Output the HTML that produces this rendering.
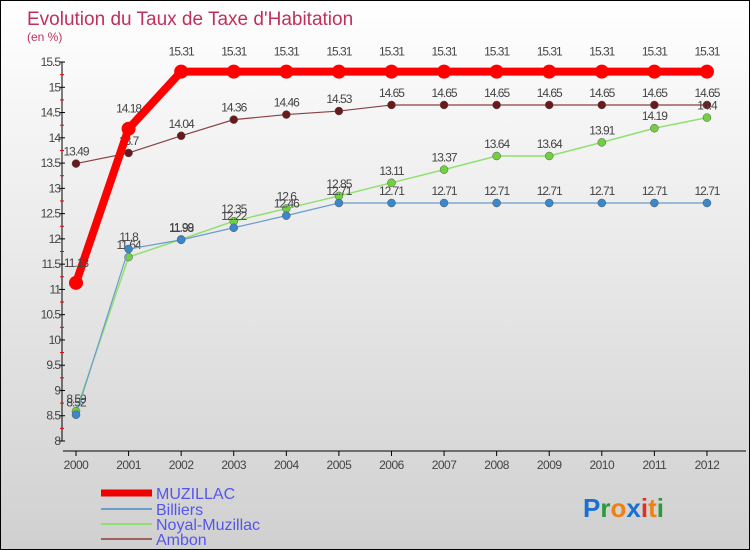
<!DOCTYPE html>
<html><head><meta charset="utf-8"><style>
body{margin:0}
#c{position:relative;width:748px;height:548px;border:1px solid #000;background:linear-gradient(#fff,#d0d0d0);overflow:hidden;font-family:"Liberation Sans",sans-serif}
svg text{font-family:"Liberation Sans",sans-serif}
</style></head><body>
<div id="c">
<svg id="s" width="748" height="548">
<text x="26" y="24" font-size="19" fill="#c0305a">Evolution du Taux de Taxe d'Habitation</text>
<text x="26" y="40" font-size="12" fill="#c0305a">(en %)</text>
<g id="axes"></g><g id="series"></g>
<g>
<line x1="100" y1="492" x2="151" y2="492" stroke="#e00" stroke-width="7"/>
<text x="155" y="498" font-size="16" fill="#5555ee">MUZILLAC</text>
<line x1="100" y1="508" x2="151" y2="508" stroke="#6a9ccc" stroke-width="2"/>
<text x="155" y="514" font-size="16" fill="#5555ee">Billiers</text>
<line x1="100" y1="523" x2="151" y2="523" stroke="#90e070" stroke-width="2"/>
<text x="155" y="529" font-size="16" fill="#5555ee">Noyal-Muzillac</text>
<line x1="100" y1="538" x2="151" y2="538" stroke="#a06060" stroke-width="2"/>
<text x="155" y="544" font-size="16" fill="#5555ee">Ambon</text>
</g>
<text x="582" y="516" font-size="26" font-weight="bold"><tspan fill="#1a70d0">P</tspan><tspan fill="#2a9a3a">r</tspan><tspan fill="#f08010">o</tspan><tspan fill="#1a70d0">x</tspan><tspan fill="#e03020">i</tspan><tspan fill="#f08010">t</tspan><tspan fill="#2a9a3a">i</tspan></text>
</svg></div>
<script>
const years=[2000,2001,2002,2003,2004,2005,2006,2007,2008,2009,2010,2011,2012];
const muzillac=[11.13,14.18,15.31,15.31,15.31,15.31,15.31,15.31,15.31,15.31,15.31,15.31,15.31];
const billiers=[8.52,11.8,11.98,12.22,12.46,12.71,12.71,12.71,12.71,12.71,12.71,12.71,12.71];
const noyal=[8.59,11.64,11.99,12.35,12.6,12.85,13.11,13.37,13.64,13.64,13.91,14.19,14.4];
const ambon=[13.49,13.7,14.04,14.36,14.46,14.53,14.65,14.65,14.65,14.65,14.65,14.65,14.65];
const yTicks=[8,8.5,9,9.5,10,10.5,11,11.5,12,12.5,13,13.5,14,14.5,15,15.5];
const NS="http://www.w3.org/2000/svg";
const X=i=>75+i*52.58;
const Y=v=>440-(v-8)*50.53;
function mk(t,a,p){const e=document.createElementNS(NS,t);for(const k in a)e.setAttribute(k,a[k]);p.appendChild(e);return e;}
const ax=document.getElementById('axes');
let l=mk('line',{x1:61,y1:Y(15.5),x2:61,y2:440,stroke:'#000'},ax);


l=mk('line',{x1:62,y1:450,x2:745,y2:450,stroke:'#000'},ax);


yTicks.forEach((v,i)=>{
 mk('line',{x1:58,y1:Y(v),x2:64,y2:Y(v),stroke:'#000'},ax);
 if(i<yTicks.length-1)mk('line',{x1:59,y1:Y(v+0.25),x2:63,y2:Y(v+0.25),stroke:'#e00'},ax);
 const t=mk('text',{x:59,y:Y(v)+4,'font-size':12,fill:'#444','text-anchor':'end','letter-spacing':'-1'},ax);
 t.textContent=v;
 
 
});
years.forEach((y,i)=>{
 mk('line',{x1:X(i),y1:450,x2:X(i),y2:455,stroke:'#000'},ax);
 const t=mk('text',{x:X(i),y:468,'font-size':12,fill:'#444','text-anchor':'middle','letter-spacing':'-0.5'},ax);
 t.textContent=y;
 
 
});
const sg=document.getElementById('series');
function draw(vals,name,col,dot,w,r){
 const g=mk('g',{},sg);
 
 
 const p=mk('polyline',{points:vals.map((v,i)=>X(i)+','+Y(v)).join(' '),fill:'none',stroke:col,'stroke-width':w},g);
 
 
 vals.forEach((v,i)=>{
  const c=mk('circle',{cx:X(i),cy:Y(v),r:r,fill:dot,stroke:w>3?'none':'#555','stroke-width':0.5},g);
  
  
  const t=mk('text',{x:X(i),y:Y(v)-(w>3?16:8),'font-size':12,fill:'#444','text-anchor':'middle','letter-spacing':'-1'},g);
  t.textContent=v;
  
  
 });
}
draw(ambon,'ambon','#8a4040','#6a1a1a',1.2,4);
draw(noyal,'noyal-muzillac','#90e070','#70d040',1.5,4);
draw(billiers,'billiers','#6a9ccc','#3a88cc',1.2,4);
draw(muzillac,'muzillac','#f00','#f00',8,7);
</script>
</body></html>
